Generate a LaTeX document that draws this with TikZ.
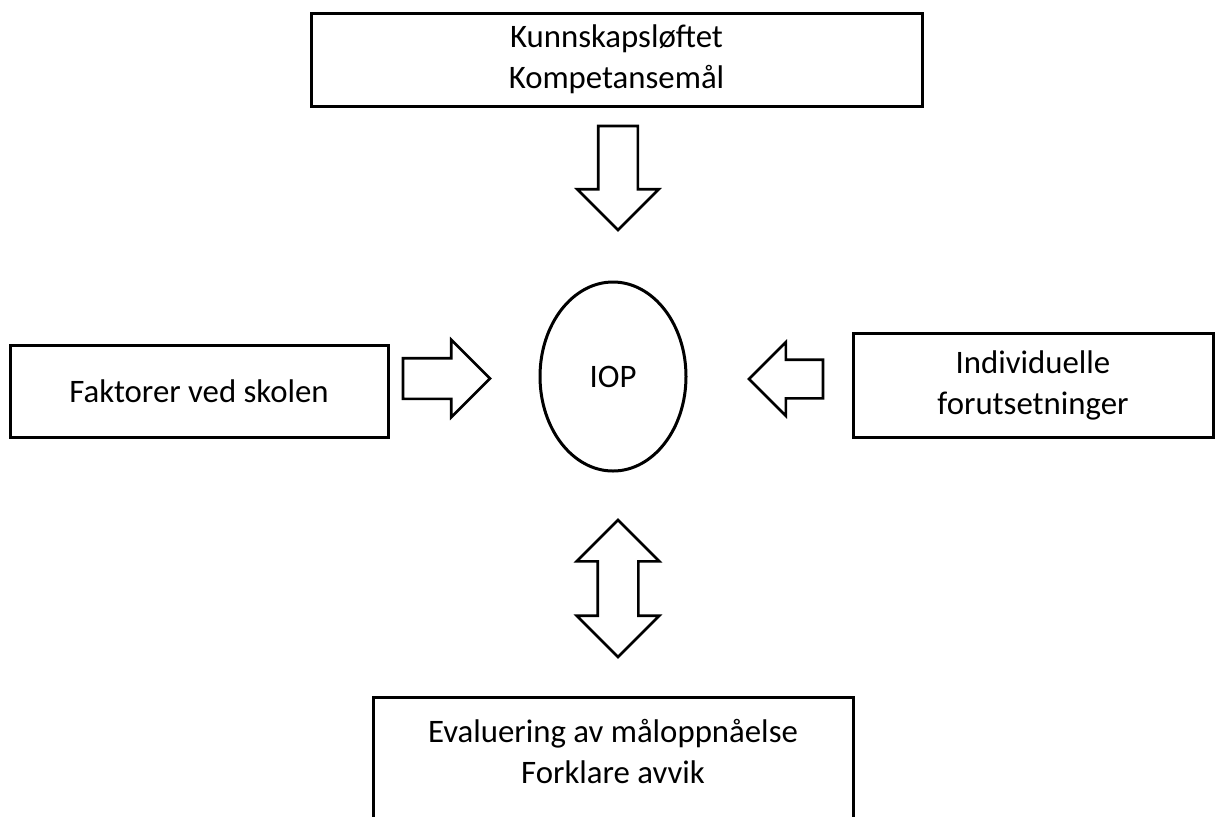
\documentclass[tikz,border=0pt]{standalone}
\usepackage{fontspec}
\setmainfont{Carlito}
\usetikzlibrary{shapes.geometric, shapes.arrows}

\begin{document}
\begin{tikzpicture}[x=0.5pt, y=-0.5pt]
      \useasboundingbox (0,0) rectangle (1215,816);
      \begin{scope}[every node/.style={font=\fontsize{16.4}{20.5}\selectfont, inner sep=0, outer sep=0}, box/.style={draw, line width=1.5pt, align=center}, blockarrow/.style={draw, line width=1.3pt, line join=miter}]
        \node [box, minimum width=305.5pt, minimum height=46.5pt] (K) at (616.5,59.5) {Kunnskapsløftet\\Kompetansemål};
        \node [box, minimum width=189pt, minimum height=46pt] (F) at (199,391) {Faktorer ved skolen};
        \node [box, minimum width=180pt, minimum height=52pt] (I) at (1033,385) {Individuelle\\forutsetninger};
        \node [box, minimum width=240pt, minimum height=71.5pt] (E) at (613,768.5) {};
        \node [align=center] (Et) at (613,751) {Evaluering av måloppnåelse\\Forklare avvik};
        \node [draw, line width=1.5pt, ellipse, minimum width=73pt, minimum height=94.5pt] (P) at (613,376.5) {IOP};
        \node [blockarrow, single arrow, shape border rotate=270, anchor=tail, inner sep=9.25pt, minimum height=52pt, single arrow head extend=10.5pt] (KP) at (618,126) {};
        \node [blockarrow, single arrow, anchor=tail, inner sep=9.5pt, minimum height=43.5pt, single arrow head extend=9.25pt] (FP) at (403,378.5) {};
        \node [blockarrow, single arrow, shape border rotate=180, anchor=tail, inner sep=9pt, minimum height=37pt, single arrow head extend=8.75pt] (IP) at (823,379) {};
        \node [blockarrow, double arrow, shape border rotate=90, inner sep=9.5pt, minimum height=68.5pt, double arrow head extend=10.5pt] (EP) at (618,588.5) {};
    \end{scope}
    \end{tikzpicture}
\end{document}
